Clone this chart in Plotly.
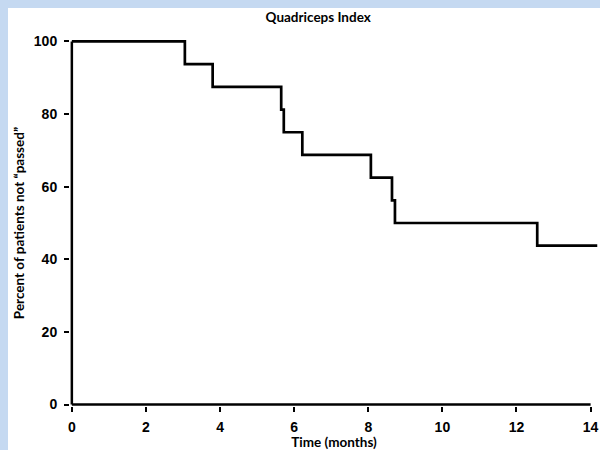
import plotly.graph_objects as go

# Kaplan-Meier style step data
time_months = [0, 3.05, 3.8, 5.65, 5.72, 6.22, 8.07, 8.64, 8.72, 12.56, 14.18]
pct_not_passed = [100, 93.75, 87.5, 81.25, 75, 68.75, 62.5, 56.25, 50, 43.75, 43.75]

x_ticks = [0, 2, 4, 6, 8, 10, 12, 14]
y_ticks = [0, 20, 40, 60, 80, 100]

title_text = "Quadriceps Index"
x_title = "Time (months)"
y_title = "Percent of patients not \u201cpassed\u201d"

label_font = "Lato, 'Open Sans', sans-serif"
tick_font = "'Liberation Sans', Arial, sans-serif"
border_blue = "#c5d9f1"

fig = go.Figure()
fig.add_trace(go.Scatter(
    x=time_months, y=pct_not_passed, mode="lines",
    line=dict(color="black", width=2.7, shape="hv"),
    showlegend=False, hoverinfo="x+y",
))

shapes = [
    # axis lines
    dict(type="line", xref="x", yref="y", x0=0, x1=0, y0=0, y1=100,
         line=dict(color="black", width=2.5)),
    dict(type="line", xref="x", yref="y", x0=0, x1=14, y0=0, y1=0,
         line=dict(color="black", width=2.5)),
]

fig.update_layout(
    width=592, height=442,
    margin=dict(l=62, r=2, t=32, b=44),
    paper_bgcolor="white", plot_bgcolor="white",
    shapes=shapes,
    title=dict(text="<b>" + title_text + "</b>", x=0.524, xanchor="center",
               y=0.98, yanchor="middle",
               font=dict(family=label_font, size=13.5, color="black")),
    xaxis=dict(
        range=[-0.05, 14.2], tickmode="array", tickvals=x_ticks,
        ticktext=[str(v) for v in x_ticks],
        showgrid=False, zeroline=False, showline=False,
        ticks="outside", ticklen=5, tickwidth=2, tickcolor="black",
        ticklabelstandoff=3,
        tickfont=dict(family=tick_font, size=14, color="black", weight="bold"),
        title=dict(text="<b>" + x_title + "</b>", standoff=1,
                   font=dict(family=label_font, size=13.5, color="black")),
        fixedrange=True,
    ),
    yaxis=dict(
        range=[-0.4, 100.4], tickmode="array", tickvals=y_ticks,
        ticktext=[str(v) for v in y_ticks],
        showgrid=False, zeroline=False, showline=False,
        ticks="outside", ticklen=5, tickwidth=2, tickcolor="black",
        ticklabelstandoff=4,
        tickfont=dict(family=tick_font, size=14, color="black", weight="bold"),
        title=dict(text="<b>" + y_title + "</b>", standoff=6,
                   font=dict(family=label_font, size=13.5, color="black")),
        fixedrange=True,
    ),
)

page_script = (
    "document.body.style.margin='0';"
    "document.body.style.overflow='hidden';"
    "document.body.style.background='" + border_blue + "';"
    "var d=document.getElementById('{plot_id}');"
    "d.style.position='relative';d.style.left='8px';d.style.top='8px';"
)

fig.write_html(
    "out.html",
    config={"displayModeBar": False},
    post_script=page_script,
)
